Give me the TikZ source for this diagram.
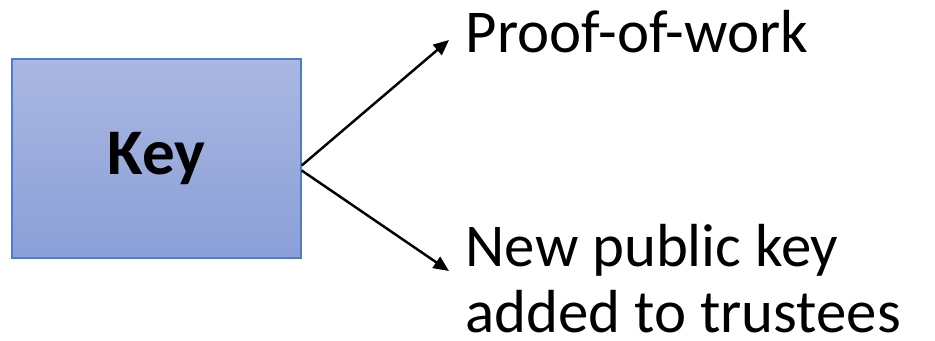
\documentclass[tikz,border=0pt]{standalone}
\usepackage{fontspec}
\setmainfont{Carlito}
\usepackage{xcolor}
\usetikzlibrary{arrows.meta, positioning}

\definecolor{keytop}{HTML}{AAB7E1}
\definecolor{keybottom}{HTML}{8AA0D8}
\definecolor{keyedge}{HTML}{4E7DD0}

\begin{document}
\begin{tikzpicture}[
    keybox/.style={rectangle, draw=keyedge, line width=0.4pt,
                   top color=keytop, bottom color=keybottom,
                   minimum width=2.89cm, minimum height=1.99cm,
                   font=\fontsize{18.5}{21}\selectfont\bfseries},
    outcome/.style={inner sep=0pt, align=left,
                    font=\fontsize{17.3}{18.8}\selectfont},
    arr/.style={-{Triangle[length=4.4pt, width=3.8pt]}, line width=0.7pt, black},
]
\useasboundingbox (0,0) rectangle (9.35,3.41);

% Key box on the left
\node[keybox] (key) at (1.565,1.825) {Key};

% Two outcomes on the right
\node[outcome, anchor=base west] (pow) at (4.65,2.88) {Proof-of-work};
\node[outcome, anchor=base west] (newkey) at (4.65,0.08)
    {New public key\\added to trustees};

% Arrow tips
\coordinate (tippow) at (4.49,3.01);
\coordinate (tipnew) at (4.49,0.70);

\draw[arr] ([yshift=-0.07cm]key.east) -- (tippow);
\draw[arr] ([yshift=-0.12cm]key.east) -- (tipnew);

\end{tikzpicture}
\end{document}
